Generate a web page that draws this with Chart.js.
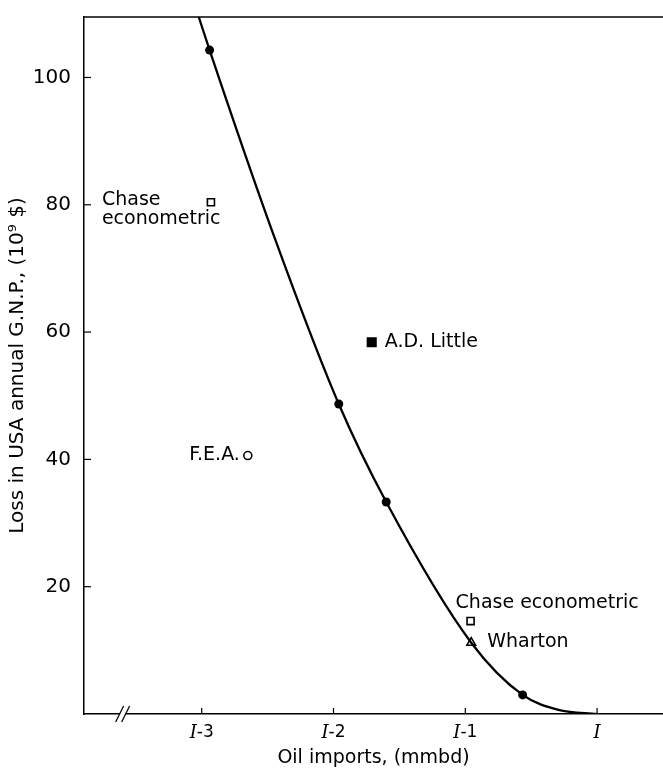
<!DOCTYPE html>
<html lang="en">
<head>
<meta charset="UTF-8" />
<title>Oil imports and GNP loss</title>
<script src="https://cdn.jsdelivr.net/npm/chart.js@4.4.1/dist/chart.umd.min.js"></script>
<style>
  body { margin: 0; background: #fff; }
  #wrap { width: 663px; height: 774px; }
</style>
</head>
<body>
<div id="wrap"><canvas id="chart"></canvas></div>
<script>
// x = oil imports relative to I (0 is I, -1 is I-1 ...), y = loss in 10^9 $
var curveX = [-3.03, -2.94, -2.45, -1.96, -1.60, -0.955, -0.565, -0.285, 0];
var curveY = [110, 104.3, 75.0, 48.7, 33.3, 11.2, 3.0, 0.6, 0];

var dotX = [-2.94, -1.96, -1.60, -0.565];
var dotY = [104.3, 48.7, 33.3, 3.0];

// other model estimates
var modelNames = [["Chase", "econometric"], ["A.D. Little"], ["F.E.A."], ["Chase econometric"], ["Wharton"]];
var modelX = [-2.93, -1.71, -2.65, -0.96, -0.955];
var modelY = [80.4, 58.4, 40.6, 14.6, 11.2];
var modelMarker = ["openSquare", "square", "circle", "openSquare", "triangle"];

var xTicks = [-3, -2, -1, 0];
var xTickLabels = ["I-3", "I-2", "I-1", "I"];
var yTicks = [20, 40, 60, 80, 100];

// where each label sits next to its marker (px)
var labelPlace = [
  { dx: -109, dy: -2, align: "left" },
  { dx: 13, dy: 0, align: "left" },
  { dx: -8, dy: -1, align: "right" },
  { dx: -15, dy: -18, align: "left" },
  { dx: 16, dy: -1, align: "left" }
];

var FONT = "'DejaVu Sans', sans-serif";
Chart.defaults.font.family = FONT;
Chart.defaults.color = "#000";

function pts(xs, ys) {
  return xs.map(function (x, i) { return { x: x, y: ys[i] }; });
}

var styleOf = {
  openSquare: { style: "rect", r: 5, fill: "#fff" },
  square: { style: "rect", r: 6, fill: "#000" },
  circle: { style: "circle", r: 4, fill: "#fff" },
  triangle: { style: "triangle", r: 5, fill: "#fff" }
};
var innerX = [], innerY = [];
modelMarker.forEach(function (m, i) {
  if (m == "openSquare" || m == "circle") { innerX.push(modelX[i]); innerY.push(modelY[i]); }
});

var decor = {
  id: "decor",
  afterDraw: function (chart) {
    var ctx = chart.ctx, a = chart.chartArea;
    var xs = chart.scales.x, ys = chart.scales.y;
    ctx.save();
    ctx.strokeStyle = "#000";
    ctx.lineWidth = 1.5;
    // top frame line
    ctx.beginPath();
    ctx.moveTo(a.left, a.top);
    ctx.lineTo(a.right, a.top);
    ctx.stroke();
    // inward ticks
    ctx.lineWidth = 1.2;
    xTicks.forEach(function (v) {
      var px = xs.getPixelForValue(v);
      ctx.beginPath(); ctx.moveTo(px, a.bottom); ctx.lineTo(px, a.bottom - 6); ctx.stroke();
    });
    yTicks.forEach(function (v) {
      var py = ys.getPixelForValue(v);
      ctx.beginPath(); ctx.moveTo(a.left, py); ctx.lineTo(a.left + 7, py); ctx.stroke();
    });
    // axis break
    var bx = xs.getPixelForValue(-3.6);
    ctx.fillStyle = "#fff";
    ctx.fillRect(bx - 3, a.bottom - 2, 6, 4);
    ctx.lineWidth = 1.3;
    [-3, 3].forEach(function (o) {
      ctx.beginPath();
      ctx.moveTo(bx + o - 4, a.bottom + 8);
      ctx.lineTo(bx + o + 4, a.bottom - 8);
      ctx.stroke();
    });
    // x tick labels, italic I
    ctx.fillStyle = "#000";
    ctx.textBaseline = "middle";
    ctx.textAlign = "left";
    xTicks.forEach(function (v, i) {
      var txt = xTickLabels[i];
      var head = txt.charAt(0), rest = txt.slice(1);
      var f1 = "italic 18px 'DejaVu Serif', serif", f2 = "17px " + FONT;
      ctx.font = f1; var w1 = ctx.measureText(head).width;
      ctx.font = f2; var w2 = ctx.measureText(rest).width;
      var x0 = xs.getPixelForValue(v) - (w1 + w2) / 2;
      var y0 = a.bottom + 19;
      ctx.font = f1; ctx.fillText(head, x0, y0);
      ctx.font = f2; ctx.fillText(rest, x0 + w1, y0);
    });
    // model labels
    ctx.font = "19px " + FONT;
    modelNames.forEach(function (lines, i) {
      var p = labelPlace[i];
      var px = xs.getPixelForValue(modelX[i]) + p.dx;
      var py = ys.getPixelForValue(modelY[i]) + p.dy;
      ctx.textAlign = p.align;
      lines.forEach(function (ln, k) { ctx.fillText(ln, px, py + k * 19); });
    });
    ctx.restore();
  }
};

new Chart(document.getElementById("chart"), {
  type: "scatter",
  data: {
    datasets: [
      {
        data: pts(curveX, curveY),
        showLine: true,
        borderColor: "#000",
        borderWidth: 2.3,
        pointRadius: 0,
        cubicInterpolationMode: "monotone"
      },
      {
        data: pts(dotX, dotY),
        pointRadius: 4.5,
        backgroundColor: "#000",
        borderColor: "#000",
        borderWidth: 0
      },
      {
        data: pts(modelX, modelY),
        pointStyle: modelMarker.map(function (m) { return styleOf[m].style; }),
        pointRadius: modelMarker.map(function (m) { return styleOf[m].r; }),
        backgroundColor: modelMarker.map(function (m) { return styleOf[m].fill; }),
        borderColor: "#000",
        borderWidth: 1.6
      },
      {
        data: pts(innerX, innerY),
        pointRadius: 1.1,
        backgroundColor: "#000",
        borderWidth: 0
      }
    ]
  },
  options: {
    responsive: true,
    maintainAspectRatio: false,
    animation: false,
    layout: { autoPadding: false, padding: { top: 14, right: 0, left: 0, bottom: 0 } },
    plugins: { legend: { display: false }, tooltip: { enabled: false } },
    scales: {
      x: {
        type: "linear",
        min: -3.893,
        max: 0.5,
        grid: { display: false },
        border: { color: "#000", width: 1.5 },
        ticks: { display: false },
        afterBuildTicks: function (s) { s.ticks = xTicks.map(function (v) { return { value: v }; }); },
        afterFit: function (s) { s.height = 60; },
        title: { display: true, text: "Oil imports, (mmbd)", font: { size: 19 }, padding: { top: 0, bottom: 5 } }
      },
      y: {
        type: "linear",
        min: 0,
        max: 109.5,
        grid: { display: false },
        border: { color: "#000", width: 1.5 },
        ticks: { font: { size: 20 }, padding: 5 },
        afterBuildTicks: function (s) { s.ticks = yTicks.map(function (v) { return { value: v }; }); },
        afterFit: function (s) { s.width = 84; },
        title: { display: true, text: "Loss in USA annual G.N.P., (10⁹ $)", font: { size: 20 }, padding: { top: 6, bottom: 0 } }
      }
    }
  },
  plugins: [decor]
});
</script>
</body>
</html>
